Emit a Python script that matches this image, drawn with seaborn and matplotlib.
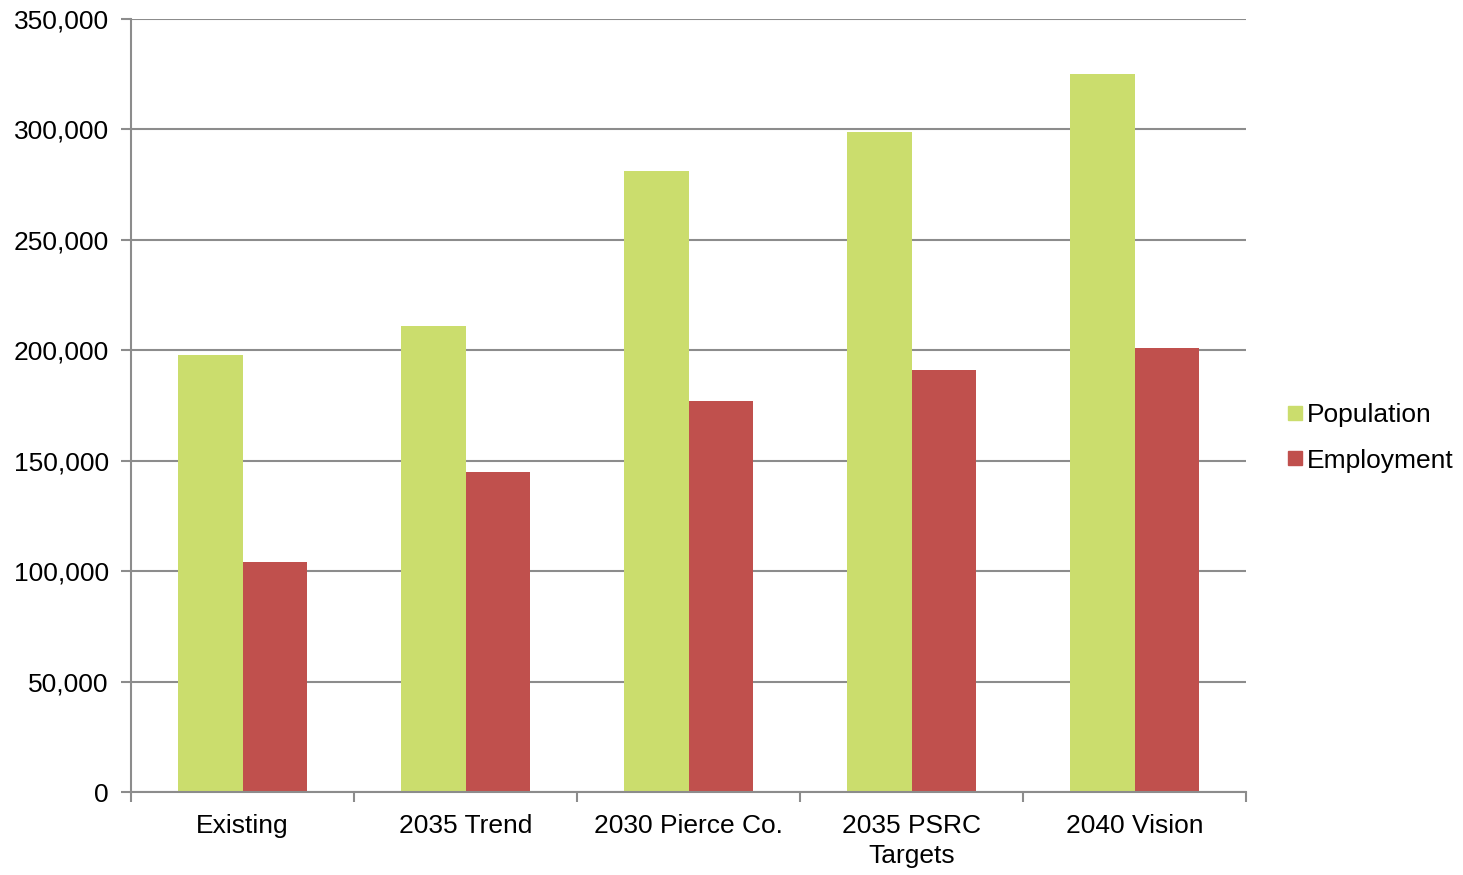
import matplotlib
matplotlib.use("Agg")
import matplotlib.pyplot as plt
import seaborn as sns
import pandas as pd
from matplotlib.ticker import FuncFormatter, FixedLocator
from matplotlib.lines import Line2D

categories = ["Existing", "2035 Trend", "2030 Pierce Co.", "2035 PSRC\nTargets", "2040 Vision"]
population = [198000, 211000, 281000, 299000, 325000]
employment = [104000, 145000, 177000, 191000, 201000]
series = ["Population", "Employment"]
colors = ["#CBDD6D", "#C0504D"]

df = pd.DataFrame({
    "cat": categories * 2,
    "value": population + employment,
    "series": ["Population"] * len(categories) + ["Employment"] * len(categories),
})

sns.set_style("white")
plt.rcParams["font.family"] = ["Liberation Sans", "DejaVu Sans"]
plt.rcParams["text.color"] = "black"
plt.rcParams["xtick.labelcolor"] = "black"
plt.rcParams["ytick.labelcolor"] = "black"

fig = plt.figure(figsize=(14.63, 8.75), dpi=100)
ax = fig.add_axes([131/1463, 1-792/875, (1246-131)/1463, (792-19)/875])

sns.barplot(data=df, x="cat", y="value", hue="series", palette=colors,
            width=0.574, gap=0, ax=ax, legend=False, saturation=1, linewidth=0)

ax.set_ylim(0, 350000)
ax.set_xlim(-0.5, len(categories) - 0.5)
ax.set_yticks(range(0, 350001, 50000))
ax.yaxis.set_major_formatter(FuncFormatter(lambda v, p: f"{int(v):,}"))
ax.yaxis.grid(True, color="#8c8c8c", linewidth=1.5)
ax.set_axisbelow(True)
ax.set_xlabel("")
ax.set_ylabel("")

for s in ["top", "right"]:
    ax.spines[s].set_visible(False)
for s in ["left", "bottom"]:
    ax.spines[s].set_color("#8c8c8c")
    ax.spines[s].set_linewidth(1.5)

ax.tick_params(axis="y", which="major", length=7, width=1.5, color="#8c8c8c",
               labelsize=19, pad=9, left=True, labelcolor="black")
ax.tick_params(axis="x", which="major", length=0, labelsize=19, pad=15.5, labelcolor="black")
ax.xaxis.set_minor_locator(FixedLocator([i - 0.5 for i in range(len(categories) + 1)]))
ax.tick_params(axis="x", which="minor", length=7, width=1.5, color="#8c8c8c", bottom=True)
for lab in ax.get_xticklabels():
    lab.set_linespacing(1.35)

handles = [Line2D([0], [0], marker="s", linestyle="", markersize=10,
                  markerfacecolor=c, markeredgecolor=c) for c in colors]
fig.legend(handles, series, loc="center left", bbox_to_anchor=(1277/1463, 1-438/875),
           frameon=False, fontsize=19, handlelength=0.6, handletextpad=0.15,
           labelspacing=0.8, borderaxespad=0, labelcolor="black")

fig.savefig("out.png", dpi=100)
